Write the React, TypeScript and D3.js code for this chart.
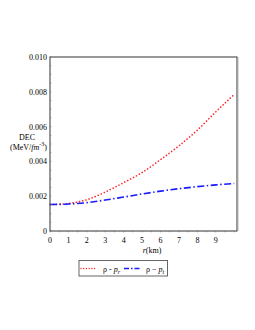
import { useMemo } from 'react';
import * as d3 from 'd3';

// radius r (km)
const radius = [0, 1, 2, 3, 4, 5, 6, 7, 8, 9, 10];
// rho - p_r
const decRadial = [0.00152, 0.00158, 0.0018, 0.00224, 0.00278, 0.00336, 0.0041, 0.0049, 0.0058, 0.00685, 0.00785];
// rho - p_t
const decTangential = [0.00152, 0.00155, 0.00163, 0.00178, 0.00195, 0.00213, 0.00229, 0.00243, 0.00255, 0.00265, 0.00273];

const xTicks = [0, 1, 2, 3, 4, 5, 6, 7, 8, 9];
const yTicks = [0, 0.002, 0.004, 0.006, 0.008, 0.01];

const W = 255;
const H = 330;
const plot = { left: 50, top: 57, right: 237, bottom: 231 };

export default function App() {
  const x = useMemo(() => d3.scaleLinear().domain([0, 10.15]).range([plot.left, plot.right]), []);
  const y = useMemo(() => d3.scaleLinear().domain([0, 0.01]).range([plot.bottom, plot.top]), []);

  const line = d3.line<number>()
    .x((_, i) => x(radius[i]))
    .curve(d3.curveMonotoneX);

  const redPath = line.y(d => y(d))(decRadial) || '';
  const bluePath = line.y(d => y(d))(decTangential) || '';

  const minorX = d3.range(0, 10.15, 0.5);
  const minorY = d3.range(0, 0.01001, 0.0005);

  const font = 'Liberation Serif, Times New Roman, serif';

  return (
    <svg width={W} height={H} style={{ position: 'absolute', left: 0, top: 0, background: '#fff' }} fontFamily={font}>
      {/* curves */}
      <path d={redPath} fill="none" stroke="#ff2020" strokeWidth={1.6} strokeDasharray="0.1 3.2" strokeLinecap="round" />
      <path d={bluePath} fill="none" stroke="#1a1aff" strokeWidth={1.6} strokeDasharray="7 2.5 1.5 2.5" />

      {/* minor ticks */}
      {minorX.map(t => (
        <line key={'mx' + t} x1={x(t)} x2={x(t)} y1={plot.bottom} y2={plot.bottom + 1.5} stroke="#999" strokeWidth={0.6} />
      ))}
      {minorY.map(t => (
        <line key={'my' + t} x1={plot.left} x2={plot.left + 1.5} y1={y(t)} y2={y(t)} stroke="#999" strokeWidth={0.6} />
      ))}

      {/* frame */}
      <rect x={plot.left} y={plot.top} width={plot.right - plot.left} height={plot.bottom - plot.top} fill="none" stroke="#333" strokeWidth={1} />
      <line x1={plot.right + 1} x2={plot.right + 1} y1={plot.top} y2={plot.bottom} stroke="#aaa" strokeWidth={0.8} />

      {/* tick labels */}
      {xTicks.map(t => (
        <text key={'xt' + t} x={x(t)} y={plot.bottom + 12} fontSize={8} textAnchor="middle" fill="#000">{t}</text>
      ))}
      {yTicks.map(t => (
        <text key={'yt' + t} x={plot.left - 3} y={y(t) + 3} fontSize={8} textAnchor="end" fill="#000">
          {t === 0 ? '0' : d3.format('.3f')(t)}
        </text>
      ))}

      {/* axis titles */}
      <text x={27} y={140} fontSize={8} textAnchor="middle" fill="#000">DEC</text>
      <text x={10} y={149.5} fontSize={8} fill="#000">
        (MeV/<tspan fontStyle="italic">fm</tspan><tspan fontSize={6} dy={-4}>-3</tspan><tspan dy={4}>)</tspan>
      </text>
      <text x={152} y={253} fontSize={8} textAnchor="middle" fill="#000">
        <tspan fontStyle="italic">r</tspan>(km)
      </text>

      {/* legend */}
      <rect x={79} y={260.5} width={88.5} height={15.5} fill="#fff" stroke="#555" strokeWidth={0.9} />
      <line x1={81} x2={96} y1={268.5} y2={268.5} stroke="#ff2020" strokeWidth={1.3} strokeDasharray="0.1 2.6" strokeLinecap="round" />
      <text x={103} y={271.5} fontSize={8} fill="#000">
        ρ - <tspan fontStyle="italic">p</tspan><tspan fontSize={6} fontStyle="italic" dy={2}>r</tspan>
      </text>
      <line x1={124} x2={141} y1={268.5} y2={268.5} stroke="#1a1aff" strokeWidth={1.3} strokeDasharray="5 2 1.5 2" />
      <text x={146} y={271.5} fontSize={8} fill="#000">
        ρ − <tspan fontStyle="italic">p</tspan><tspan fontSize={6} fontStyle="italic" dy={2}>t</tspan>
      </text>
    </svg>
  );
}
